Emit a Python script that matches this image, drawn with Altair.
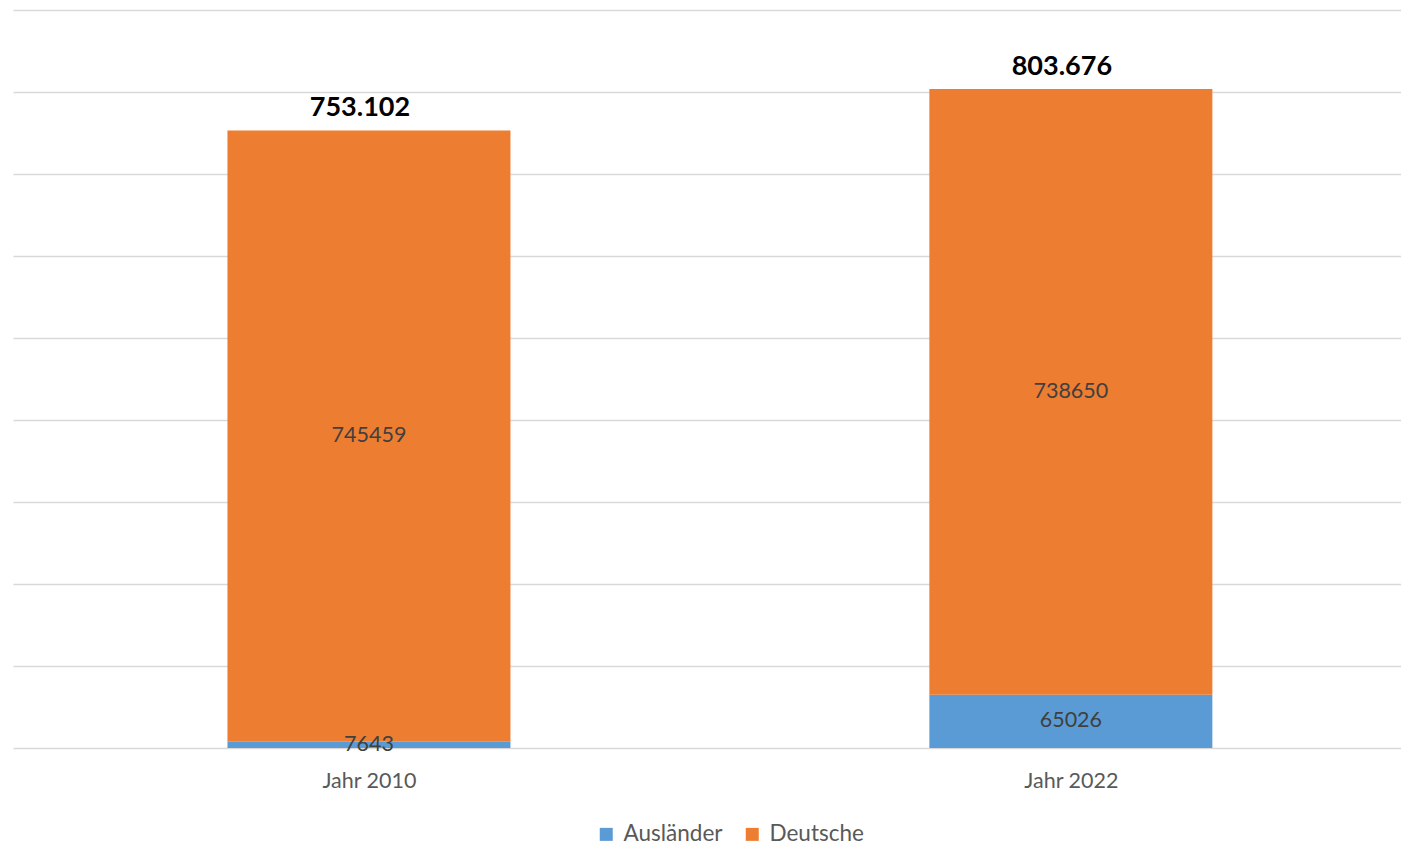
import altair as alt
import pandas as pd

years = ["Jahr 2010", "Jahr 2022"]
auslaender = [7643, 65026]
deutsche = [745459, 738650]
series = ["Ausländer", "Deutsche"]
colors = ["#5B9BD5", "#ED7D31"]
grid_values = [0, 100000, 200000, 300000, 400000, 500000, 600000, 700000, 800000, 900000]

rows = []
for i, y in enumerate(years):
    rows.append({"year": y, "idx": i, "series": series[0], "value": auslaender[i], "ord": 0})
    rows.append({"year": y, "idx": i, "series": series[1], "value": deutsche[i], "ord": 1})
df = pd.DataFrame(rows)

FONT = "Lato"
W = 1388
STEP = 707
label_expr = "[" + ",".join("'" + y + "'" for y in years) + "][datum.value]"

xscale = alt.Scale(domain=[-0.5, W / STEP - 0.5], nice=False, zero=False)
yscale = alt.Scale(domain=[0, 900000], nice=False, zero=True)

xenc = alt.X("idx:Q", scale=xscale,
             axis=alt.Axis(title=None, labelAngle=0, domain=False, ticks=False, tickSize=0,
                           values=list(range(len(years))), labelExpr=label_expr,
                           labelFontSize=21.5, labelColor="#595959", labelFont=FONT,
                           labelPadding=22, grid=False))

base = alt.Chart(df)

bars = base.mark_bar(size=283, stroke=None).encode(
    x=xenc,
    y=alt.Y("value:Q", stack="zero", scale=yscale,
            axis=alt.Axis(title=None, labels=False, domain=False, ticks=False, tickSize=0,
                          values=grid_values, grid=True, gridColor="#d9d9d9", gridWidth=1.5)),
    color=alt.Color("series:N", scale=alt.Scale(domain=series, range=colors),
                    legend=alt.Legend(title=None, orient="none", direction="horizontal",
                                      legendX=582, legendY=813,
                                      symbolType="square", symbolSize=169, symbolStrokeWidth=0,
                                      labelFontSize=22.5, labelColor="#595959", labelFont=FONT,
                                      labelOffset=6, columnPadding=18)),
    order=alt.Order("ord:Q", sort="ascending"),
)

seg_labels = base.transform_stack(
    stack="value", as_=["y0", "y1"], groupby=["year"], sort=[alt.SortField("ord", order="ascending")]
).transform_calculate(
    mid="(datum.y0 + datum.y1) / 2"
).mark_text(fontSize=21.5, color="#404040", font=FONT, baseline="middle").encode(
    x=alt.X("idx:Q", scale=xscale),
    y=alt.Y("mid:Q", scale=yscale),
    text=alt.Text("value:Q", format="d"),
)

totals = base.transform_aggregate(
    total="sum(value)", groupby=["idx"]
).transform_calculate(
    lbl="replace(format(datum.total, ',d'), /,/g, '.')"
).mark_text(fontSize=27, fontWeight="bold", color="#000000", font=FONT,
            baseline="bottom", dy=-8, dx=-9).encode(
    x=alt.X("idx:Q", scale=xscale),
    y=alt.Y("total:Q", scale=yscale),
    text="lbl:N",
)

chart = alt.layer(bars, seg_labels, totals).properties(
    width=W, height=738,
    padding={"left": 5, "top": 2, "right": 0, "bottom": 0},
).configure_view(stroke=None)

chart.save("out.html", embed_options={"renderer": "svg", "actions": False})
